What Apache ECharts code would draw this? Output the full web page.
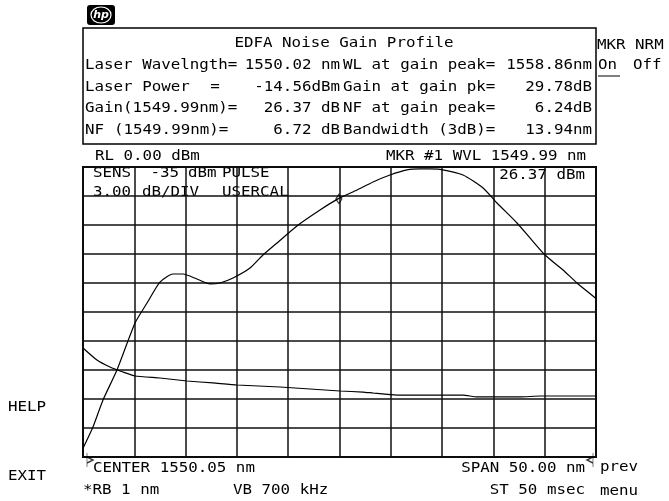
<!DOCTYPE html>
<html><head><meta charset="utf-8">
<script src="https://cdn.jsdelivr.net/npm/echarts@6/dist/echarts.min.js"></script>
<style>html,body{margin:0;padding:0;background:#fff}#c{width:669px;height:501px}</style>
</head><body><div id="c"></div>
<script>
// ---- data ----
const START_NM = 1525.05;   // CENTER 1550.05 nm, SPAN 50.00 nm
const SPAN_NM = 50;
const DIV_NM = 5;
const TOP_DB = 30;          // 10 div x 3.00 dB/DIV
const DIV_DB = 3;

const gainWl = [1525.05,1526.02,1527.0,1528.36,1530.12,1531.29,1532.55,1533.82,1534.8,1536.16,1537.43,1538.4,1539.67,1541.33,1542.59,1543.96,1545.9,1548.15,1549.9,1551.76,1553.32,1554.97,1556.63,1557.9,1558.86,1559.85,1562.09,1564.04,1565.4,1567.35,1568.62,1570.08,1571.84,1573.2,1575.05];
const gainDb = [0.9,3.1,5.9,9.0,13.86,15.93,18.1,18.93,18.93,18.41,17.9,18.0,18.52,19.55,20.9,22.14,23.9,25.55,26.7,27.62,28.45,29.17,29.7,29.8,29.8,29.75,29.17,27.83,26.28,24.21,22.66,20.9,19.34,18.0,16.4];

const nfWl = [1525.05,1526.41,1527.68,1528.95,1530.12,1532.55,1535.19,1537.72,1540.06,1544.25,1550.1,1552.34,1553.32,1555.65,1562.09,1563.45,1567.65,1569.6,1575.05];
const nfDb = [11.28,10.03,9.31,8.79,8.38,8.17,7.86,7.66,7.45,7.24,6.83,6.72,6.62,6.41,6.41,6.21,6.21,6.31,6.31];

const markerWl = 1549.99;
const markerDb = 26.7;

// ---- texts ----
const hdr = {
  title: "EDFA Noise Gain Profile",
  r1a: "Laser Wavelngth=", r1b: "1550.02 nm", r1c: "WL at gain peak=", r1d: "1558.86nm",
  r2a: "Laser Power", r2e: "=", r2b: "-14.56dBm", r2c: "Gain at gain pk=", r2d: "29.78dB",
  r3a: "Gain(1549.99nm)=", r3b: "26.37 dB", r3c: "NF at gain peak=", r3d: "6.24dB",
  r4a: "NF", r4e: "(1549.99nm)=", r4b: "6.72 dB", r4c: "Bandwidth (3dB)=", r4d: "13.94nm"
};

const chart = echarts.init(document.getElementById('c'), null, {renderer: 'canvas'});
const FONT = '14px "DejaVu Sans Mono"';
const SX = 1.13;
function T(text, x, y, align, extra) {
  return Object.assign({
    type: 'text', x: x, y: y, scaleX: SX, silent: true,
    style: {text: text, font: FONT, fill: '#000', textAlign: align || 'left', textVerticalAlign: 'middle'}
  }, extra || {});
}

const L = 85, M = 340, R2 = 343, RE = 592;
const rowsY = [65, 87, 108, 130];
const graphics = [
  // hp logo
  {type: 'rect', shape: {x: 87, y: 5, width: 28, height: 20, r: 3}, style: {fill: '#000'}, silent: true},
  {type: 'ellipse', shape: {cx: 101, cy: 15, rx: 10, ry: 8}, style: {fill: 'none', stroke: '#fff', lineWidth: 1.2}, silent: true},
  {type: 'text', x: 101, y: 15, silent: true, style: {text: 'hp', font: 'italic bold 11px "DejaVu Sans"', fill: '#fff', textAlign: 'center', textVerticalAlign: 'middle'}},
  // header box
  {type: 'rect', shape: {x: 83, y: 28, width: 513, height: 116}, style: {fill: 'none', stroke: '#000', lineWidth: 1.5}, silent: true},
  T(hdr.title, 344, 43, 'center'),
  T(hdr.r1a, L, rowsY[0]), T(hdr.r1b, M, rowsY[0], 'right'), T(hdr.r1c, R2, rowsY[0]), T(hdr.r1d, RE, rowsY[0], 'right'),
  T(hdr.r2a, L, rowsY[1]), T(hdr.r2e, 215, rowsY[1], 'center'), T(hdr.r2b, M, rowsY[1], 'right'), T(hdr.r2c, R2, rowsY[1]), T(hdr.r2d, RE, rowsY[1], 'right'),
  T(hdr.r3a, L, rowsY[2]), T(hdr.r3b, M, rowsY[2], 'right'), T(hdr.r3c, R2, rowsY[2]), T(hdr.r3d, RE, rowsY[2], 'right'),
  T(hdr.r4a, L, rowsY[3]), T(hdr.r4e, 114, rowsY[3]), T(hdr.r4b, M, rowsY[3], 'right'), T(hdr.r4c, R2, rowsY[3]), T(hdr.r4d, RE, rowsY[3], 'right'),
  // right softkeys
  T("MKR NRM", 597, 45), T("On", 598, 65), T("Off", 633, 65),
  {type: 'line', shape: {x1: 598, y1: 76, x2: 620, y2: 76}, style: {stroke: '#000', lineWidth: 1}, silent: true},
  // graph header
  T("RL 0.00 dBm", 95, 156), T("MKR #1 WVL 1549.99 nm", 586, 156, 'right'),
  // in-grid annotations
  T("SENS", 93, 173), T("-35", 179, 173, 'right'), T("dBm", 188, 173), T("PULSE", 222, 173),
  T("3.00", 93, 192), T("dB/DIV", 142, 192), T("USERCAL", 222, 192),
  T("26.37 dBm", 585, 175, 'right'),
  // bottom annotations
  T("CENTER 1550.05 nm", 93, 468), T("SPAN 50.00 nm", 585, 468, 'right'),
  T("*RB 1 nm", 83, 490), T("VB 700 kHz", 233, 490), T("ST 50 msec", 585, 490, 'right'),
  T("prev", 600, 467), T("menu", 600, 491),
  T("HELP", 8, 407), T("EXIT", 8, 476)
];

const toXY = (wl, db) => wl.map((w, i) => [+(w - START_NM).toFixed(3), db[i]]);

const option = {
  animation: false,
  backgroundColor: '#fff',
  grid: {left: 83, top: 167, width: 513, height: 290, show: true, borderColor: '#000', borderWidth: 2, backgroundColor: 'transparent'},
  xAxis: {
    type: 'value', min: 0, max: SPAN_NM, interval: DIV_NM,
    axisLabel: {show: false}, axisTick: {show: false}, axisLine: {show: false},
    splitLine: {show: true, lineStyle: {color: '#111', width: 1.5}}
  },
  yAxis: {
    type: 'value', min: 0, max: TOP_DB, interval: DIV_DB,
    axisLabel: {show: false}, axisTick: {show: false}, axisLine: {show: false},
    splitLine: {show: true, lineStyle: {color: '#111', width: 1.5}}
  },
  series: [
    {type: 'line', data: toXY(gainWl, gainDb), smooth: 0.2, showSymbol: false, lineStyle: {color: '#000', width: 1.2}, z: 5},
    {type: 'line', data: toXY(nfWl, nfDb), smooth: 0.15, showSymbol: false, lineStyle: {color: '#000', width: 1.2}, z: 5},
    {type: 'scatter', data: [[markerWl - START_NM, markerDb]], symbol: 'diamond', symbolSize: [6, 9],
     itemStyle: {color: 'rgba(0,0,0,0)', borderColor: '#000', borderWidth: 1.2}, z: 6},
    {type: 'scatter', data: [[0, 0]], symbol: 'path://M0,0 L0,14 M0,4 L6,7 L0,10 Z', symbolSize: [6, 14], symbolOffset: [7, 3],
     itemStyle: {color: 'rgba(0,0,0,0)', borderColor: '#000', borderWidth: 1}, z: 6},
    {type: 'scatter', data: [[SPAN_NM, 0]], symbol: 'path://M6,0 L6,14 M6,4 L0,7 L6,10 Z', symbolSize: [6, 14], symbolOffset: [-6, 3],
     itemStyle: {color: 'rgba(0,0,0,0)', borderColor: '#000', borderWidth: 1}, z: 6}
  ],
  graphic: graphics
};
chart.setOption(option);
</script></body></html>
